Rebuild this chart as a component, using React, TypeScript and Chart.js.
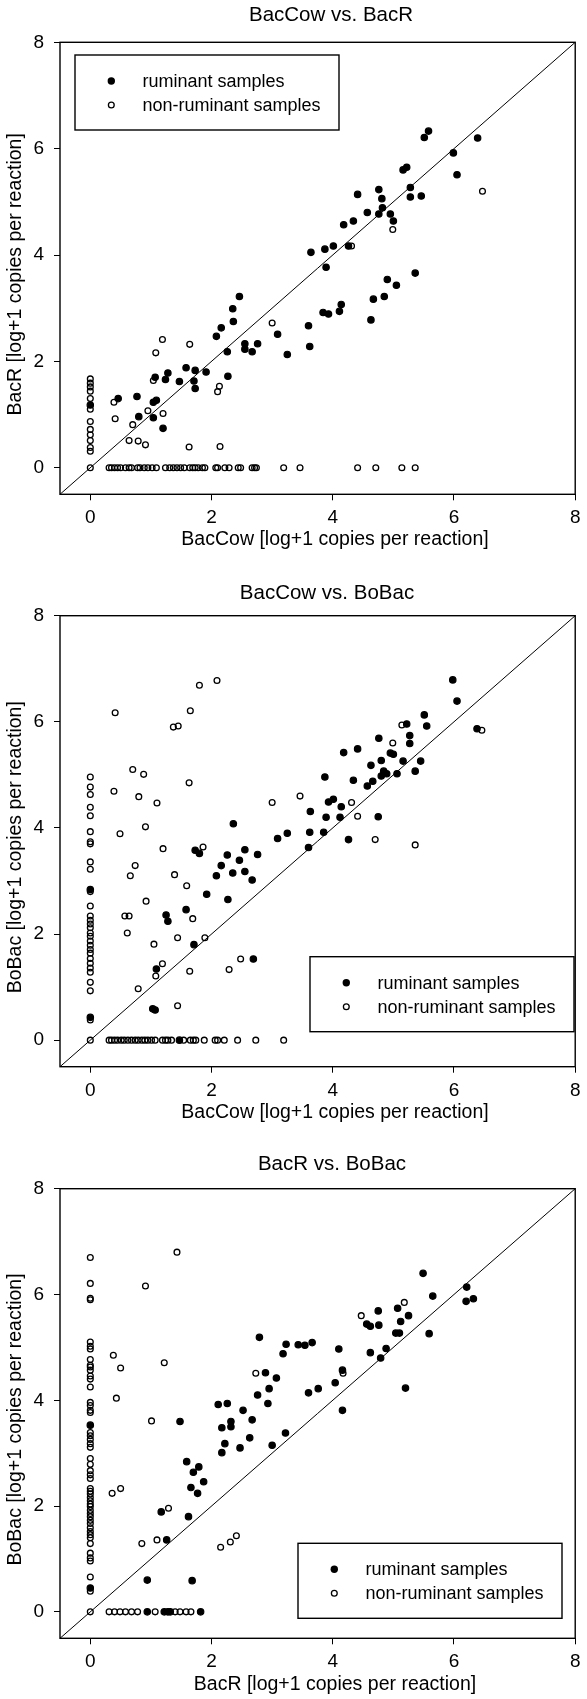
import React, { useEffect, useRef } from "react";
import { Chart, registerables } from "chart.js";

Chart.register(...registerables);

// ---------- axes / labels ----------
const AXIS_MIN = -0.5;
const AXIS_MAX = 8;
const TICK_VALUES = [0, 2, 4, 6, 8];
const DIAGONAL = [-0.5, 8];
const SERIES_LABELS = ["ruminant samples", "non-ruminant samples"];
const TITLES = ["BacCow vs. BacR", "BacCow vs. BoBac", "BacR vs. BoBac"];
const X_TITLES = [
  "BacCow [log+1 copies per reaction]",
  "BacCow [log+1 copies per reaction]",
  "BacR [log+1 copies per reaction]",
];
const Y_TITLES = [
  "BacR [log+1 copies per reaction]",
  "BoBac [log+1 copies per reaction]",
  "BoBac [log+1 copies per reaction]",
];

// ---------- panel 1: BacCow vs. BacR ----------
const p1RumX = [5.58, 5.51, 6.39, 5.99, 6.05, 5.16, 5.22, 4.76, 5.28, 4.81, 4.41, 5.28, 5.46, 4.82, 4.57, 4.76, 4.95, 5.0, 4.34, 4.18, 4.01, 3.87, 3.64, 4.26, 3.89, 5.36, 4.9, 5.05, 2.46, 4.67, 4.85, 2.35, 2.36, 4.14, 4.11, 3.84, 3.93, 4.63, 3.6, 2.16, 2.08, 3.09, 2.55, 2.55, 2.76, 2.26, 2.67, 3.62, 3.25, 1.58, 1.73, 1.91, 1.28, 1.24, 1.07, 1.47, 1.71, 2.27, 1.73, 0.46, 0.77, 1.09, 1.04, 0.8, 1.04, 1.2, 0];
const p1RumY = [6.33, 6.21, 6.2, 5.92, 5.51, 5.6, 5.65, 5.23, 5.27, 5.06, 5.14, 5.09, 5.11, 4.89, 4.8, 4.77, 4.77, 4.64, 4.64, 4.57, 4.17, 4.11, 4.05, 4.17, 3.77, 3.66, 3.54, 3.43, 3.22, 3.17, 3.22, 2.99, 2.75, 3.07, 2.94, 2.92, 2.89, 2.78, 2.67, 2.63, 2.47, 2.51, 2.33, 2.23, 2.33, 2.18, 2.18, 2.28, 2.13, 1.88, 1.83, 1.8, 1.78, 1.66, 1.7, 1.62, 1.63, 1.72, 1.49, 1.3, 1.34, 1.27, 1.23, 0.96, 0.94, 0.74, 1.18];
const p1NonX = [6.47, 4.99, 4.31, 3.0, 1.19, 1.64, 1.08, 1.04, 2.13, 2.1, 0.39, 0.41, 0.95, 1.2, 0.7, 0.64, 0.79, 0.91, 1.63, 2.14];
const p1NonY = [5.2, 4.48, 4.17, 2.72, 2.41, 2.32, 2.16, 1.64, 1.53, 1.43, 1.23, 0.92, 1.07, 1.02, 0.81, 0.51, 0.5, 0.43, 0.39, 0.4];
const p1NonOnYAxis = [1.67, 1.59, 1.52, 1.44, 1.3, 1.1, 0.87, 0.72, 0.62, 0.51, 0.38, 0.31, 0];
const p1NonOnXAxis = [0.31, 0.35, 0.4, 0.45, 0.5, 0.58, 0.64, 0.68, 0.78, 0.82, 0.89, 0.95, 1.02, 1.09, 1.24, 1.31, 1.37, 1.43, 1.49, 1.55, 1.64, 1.69, 1.73, 1.78, 1.85, 1.89, 2.07, 2.1, 2.22, 2.29, 2.44, 2.48, 2.67, 2.71, 2.74, 3.19, 3.46, 4.41, 4.71, 5.14, 5.36];

// ---------- panel 2: BacCow vs. BoBac ----------
const p2RumX = [5.98, 6.05, 5.51, 5.55, 5.22, 5.27, 5.27, 6.38, 4.76, 4.41, 4.18, 4.95, 5.0, 4.8, 5.16, 5.45, 4.63, 4.84, 4.89, 4.8, 5.06, 5.36, 3.87, 4.34, 4.66, 4.57, 3.93, 4.01, 4.14, 3.63, 3.89, 4.12, 4.75, 3.62, 3.85, 3.25, 3.09, 3.6, 4.26, 2.36, 1.73, 1.8, 2.26, 2.55, 2.76, 2.16, 2.46, 2.08, 2.35, 2.55, 2.67, 1.92, 2.27, 1.58, 1.25, 1.28, 1.71, 2.69, 1.09, 1.03, 1.07, 1.47, 0, 0];
const p2RumY = [6.79, 6.39, 6.13, 5.92, 5.96, 5.74, 5.59, 5.87, 5.69, 5.49, 5.42, 5.41, 5.39, 5.27, 5.26, 5.26, 5.18, 5.07, 5.02, 4.98, 5.02, 5.07, 4.96, 4.9, 4.88, 4.79, 4.49, 4.54, 4.4, 4.31, 4.2, 4.2, 4.21, 3.92, 3.92, 3.9, 3.8, 3.63, 3.78, 4.08, 3.58, 3.52, 3.49, 3.59, 3.5, 3.29, 3.39, 3.1, 3.15, 3.18, 3.02, 2.75, 2.65, 2.46, 2.36, 2.24, 1.8, 1.53, 1.34, 0.59, 0.57, 0, 2.84, 0.43];
const p2NonX = [0.41, 1.37, 1.45, 1.8, 2.09, 1.65, 0.7, 0.88, 0.39, 0.8, 1.1, 1.63, 0.49, 0.91, 1.2, 1.86, 0.74, 0.66, 1.39, 1.59, 0.92, 0.57, 0.64, 0.61, 1.69, 1.44, 1.89, 1.05, 1.19, 1.08, 1.64, 2.29, 2.48, 0.79, 1.44, 3.0, 3.46, 4.31, 4.41, 4.7, 5.36, 5.14, 4.99, 6.46];
const p2NonY = [6.17, 5.9, 5.92, 6.69, 6.78, 6.21, 5.1, 5.01, 4.69, 4.59, 4.47, 4.85, 3.89, 4.02, 3.61, 3.64, 3.29, 3.1, 3.12, 2.91, 2.62, 2.34, 2.34, 2.02, 2.29, 1.93, 1.93, 1.81, 1.44, 1.21, 1.3, 1.33, 1.53, 0.97, 0.65, 4.48, 4.6, 4.48, 4.22, 3.78, 3.68, 5.94, 5.6, 5.84];
const p2NonOnYAxis = [4.96, 4.77, 4.63, 4.39, 4.23, 3.93, 3.74, 3.7, 3.36, 3.22, 2.8, 2.53, 2.34, 2.26, 2.19, 2.12, 2.02, 1.96, 1.87, 1.79, 1.71, 1.64, 1.54, 1.45, 1.36, 1.28, 1.09, 0.93, 0.38, 0];
const p2NonOnXAxis = [0.31, 0.35, 0.4, 0.45, 0.51, 0.56, 0.62, 0.68, 0.74, 0.79, 0.85, 0.9, 0.95, 1.01, 1.07, 1.19, 1.24, 1.28, 1.34, 1.54, 1.65, 1.7, 1.74, 1.88, 2.06, 2.1, 2.21, 2.43, 2.73, 3.19];

// ---------- panel 3: BacR vs. BoBac ----------
const p3RumX = [5.49, 5.65, 6.21, 6.2, 6.32, 5.59, 5.2, 4.75, 5.07, 5.12, 5.25, 5.04, 5.1, 4.56, 4.62, 4.76, 4.62, 4.88, 4.79, 4.1, 4.16, 4.04, 4.16, 3.76, 3.6, 2.79, 3.23, 3.18, 3.43, 3.54, 3.66, 2.89, 3.07, 2.76, 2.95, 2.93, 2.11, 2.26, 2.52, 2.32, 2.17, 2.32, 2.67, 2.63, 3.22, 2.22, 2.17, 2.47, 3.0, 1.48, 1.59, 1.7, 1.79, 1.87, 1.66, 1.77, 1.17, 1.62, 1.26, 0.94, 1.68, 0, 0, 0.94, 1.22, 1.28, 1.32, 1.82];
const p3RumY = [6.4, 5.97, 6.14, 5.87, 5.92, 5.26, 4.23, 5.69, 5.74, 5.49, 5.6, 5.27, 5.27, 5.44, 5.4, 5.42, 4.9, 4.98, 4.8, 4.97, 4.57, 4.33, 3.81, 4.22, 4.14, 5.19, 5.06, 4.88, 5.05, 5.04, 5.09, 4.52, 4.42, 4.1, 4.22, 3.94, 3.92, 3.94, 3.81, 3.6, 3.48, 3.5, 3.63, 3.29, 3.38, 3.18, 3.01, 3.1, 3.15, 3.6, 2.84, 2.64, 2.74, 2.46, 2.35, 2.24, 1.89, 1.8, 1.36, 0.6, 0.59, 3.53, 0.45, 0, 0, 0, 0, 0];
const p3NonX = [1.43, 0.91, 0.38, 0.5, 1.22, 0.43, 1.01, 0.36, 0.5, 1.29, 0.85, 1.1, 2.15, 2.31, 2.41, 2.73, 4.17, 4.47, 5.18];
const p3NonY = [6.8, 6.16, 4.85, 4.61, 4.71, 4.04, 3.61, 2.24, 2.33, 1.96, 1.29, 1.36, 1.22, 1.32, 1.44, 4.51, 4.51, 5.6, 5.85];
const p3NonOnYAxis = [6.7, 6.21, 5.93, 5.9, 5.1, 5.02, 4.97, 4.77, 4.66, 4.63, 4.57, 4.46, 4.4, 4.25, 3.96, 3.9, 3.81, 3.77, 3.39, 3.33, 3.26, 3.18, 3.11, 2.9, 2.79, 2.67, 2.59, 2.52, 2.33, 2.28, 2.23, 2.16, 2.1, 2.04, 1.99, 1.92, 1.86, 1.8, 1.73, 1.67, 1.59, 1.52, 1.46, 1.4, 1.29, 1.11, 1.02, 0.96, 0.66, 0.39, 0];
const p3NonOnXAxis = [0.31, 0.4, 0.49, 0.58, 0.68, 0.78, 1.07, 1.4, 1.48, 1.58, 1.66];

const PANEL_DATA = [
  { rumX: p1RumX, rumY: p1RumY, nonX: p1NonX, nonY: p1NonY, nonOnY: p1NonOnYAxis, nonOnX: p1NonOnXAxis },
  { rumX: p2RumX, rumY: p2RumY, nonX: p2NonX, nonY: p2NonY, nonOnY: p2NonOnYAxis, nonOnX: p2NonOnXAxis },
  { rumX: p3RumX, rumY: p3RumY, nonX: p3NonX, nonY: p3NonY, nonOnY: p3NonOnYAxis, nonOnX: p3NonOnXAxis },
];

// ---------- layout (pixels) ----------
const FONT = "'Liberation Sans', Arial, Helvetica, sans-serif";
const WIDTH = 587;
const PLOT_LEFT = 60;
const PLOT_RIGHT = 580.5;
const LAYOUT = [
  { top: 0, height: 573, chartTop: 42.3, chartBottom: 494.3, titleX: 331, titleY: 15, xTitleY: 540, legendX: 75, legendY: 55 },
  { top: 573, height: 573, chartTop: 42.7, chartBottom: 493.7, titleX: 327, titleY: 20.7, xTitleY: 540, legendX: 310, legendY: 383.7 },
  { top: 1146, height: 553, chartTop: 42.7, chartBottom: 492.3, titleX: 332, titleY: 18.7, xTitleY: 539, legendX: 298, legendY: 397.3 },
];
const LEGEND_W = 264;
const LEGEND_H = 75;

function makeDecorPlugin(i: number) {
  const L = LAYOUT[i];
  return {
    id: "panelDecor" + i,
    afterDraw(chart: any) {
      const ctx = chart.ctx;
      const a = chart.chartArea;
      ctx.save();
      // plot frame
      ctx.strokeStyle = "#000";
      ctx.lineWidth = 1.4;
      ctx.strokeRect(a.left, a.top, a.right - a.left, a.bottom - a.top);
      // titles
      ctx.fillStyle = "#000";
      ctx.textAlign = "center";
      ctx.textBaseline = "middle";
      ctx.font = `20.5px ${FONT}`;
      ctx.fillText(TITLES[i], L.titleX, L.titleY);
      ctx.font = `19.5px ${FONT}`;
      ctx.fillText(X_TITLES[i], 335, L.xTitleY);
      ctx.save();
      ctx.translate(16, (a.top + a.bottom) / 2 + 6);
      ctx.rotate(-Math.PI / 2);
      ctx.fillText(Y_TITLES[i], 0, 0);
      ctx.restore();
      // legend
      ctx.lineWidth = 1.4;
      ctx.strokeRect(L.legendX, L.legendY, LEGEND_W, LEGEND_H);
      ctx.font = `18px ${FONT}`;
      ctx.textAlign = "left";
      const rows = [26, 50];
      rows.forEach((dy, k) => {
        const cx = L.legendX + 36.3;
        const cy = L.legendY + dy;
        ctx.beginPath();
        ctx.arc(cx, cy, k === 0 ? 3.7 : 2.9, 0, Math.PI * 2);
        if (k === 0) {
          ctx.fillStyle = "#000";
          ctx.fill();
        } else {
          ctx.lineWidth = 1.3;
          ctx.stroke();
        }
        ctx.fillStyle = "#000";
        ctx.fillText(SERIES_LABELS[k], L.legendX + 67.4, cy + 1);
      });
      ctx.restore();
    },
  };
}

function Panel({ index }: { index: number }) {
  const ref = useRef<HTMLCanvasElement | null>(null);
  useEffect(() => {
    const L = LAYOUT[index];
    const D = PANEL_DATA[index];
    const rum = D.rumX.map((x, k) => ({ x, y: D.rumY[k] }));
    const non = [
      ...D.nonX.map((x, k) => ({ x, y: D.nonY[k] })),
      ...D.nonOnY.map((y) => ({ x: 0, y })),
      ...D.nonOnX.map((x) => ({ x, y: 0 })),
    ];
    const diag = DIAGONAL.map((v) => ({ x: v, y: v }));
    const tickSetter = (s: any) => {
      s.ticks = TICK_VALUES.map((value) => ({ value }));
    };
    const common = {
      type: "linear",
      min: AXIS_MIN,
      max: AXIS_MAX,
      afterBuildTicks: tickSetter,
      border: { display: false },
      grid: {
        display: true,
        drawOnChartArea: false,
        drawTicks: true,
        tickLength: 6,
        color: "#000",
        lineWidth: 1,
      },
    };
    const chart = new Chart(ref.current as HTMLCanvasElement, {
      type: "scatter",
      data: {
        datasets: [
          {
            label: SERIES_LABELS[0],
            data: rum,
            pointRadius: 3.2,
            pointBorderWidth: 1.2,
            pointBackgroundColor: "#000",
            pointBorderColor: "#000",
          },
          {
            label: SERIES_LABELS[1],
            data: non,
            pointRadius: 2.9,
            pointBorderWidth: 1.3,
            pointBackgroundColor: "rgba(0,0,0,0)",
            pointBorderColor: "#000",
          },
          {
            label: "1:1",
            data: diag,
            showLine: true,
            pointRadius: 0,
            borderColor: "#000",
            borderWidth: 1,
            fill: false,
          },
        ],
      },
      options: {
        animation: false,
        responsive: false,
        devicePixelRatio: 1,
        layout: {
          padding: { top: L.chartTop, right: WIDTH - PLOT_RIGHT, bottom: 0, left: 0 },
        },
        plugins: {
          legend: { display: false },
          title: { display: false },
          tooltip: { enabled: false },
        },
        scales: {
          x: {
            ...common,
            afterFit: (s: any) => {
              s.height = L.height - L.chartBottom;
            },
            ticks: {
              padding: 6.5,
              color: "#000",
              font: { family: FONT, size: 19 },
              maxRotation: 0,
              autoSkip: false,
            },
          },
          y: {
            ...common,
            afterFit: (s: any) => {
              s.width = PLOT_LEFT;
            },
            ticks: {
              padding: 10,
              color: "#000",
              font: { family: FONT, size: 19 },
              autoSkip: false,
            },
          },
        },
      } as any,
      plugins: [makeDecorPlugin(index)],
    } as any);
    return () => chart.destroy();
  }, [index]);
  const L = LAYOUT[index];
  return (
    <canvas
      ref={ref}
      width={WIDTH}
      height={L.height}
      style={{ position: "absolute", left: 0, top: L.top, width: WIDTH, height: L.height, display: "block" }}
    />
  );
}

export default function App() {
  return (
    <div style={{ position: "absolute", left: 0, top: 0, width: WIDTH, height: 1699, background: "#fff" }}>
      <Panel index={0} />
      <Panel index={1} />
      <Panel index={2} />
    </div>
  );
}
